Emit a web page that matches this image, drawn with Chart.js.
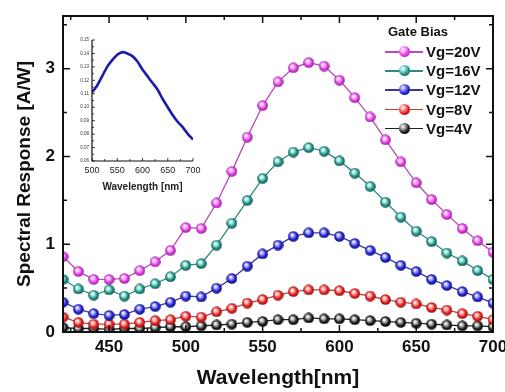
<!DOCTYPE html>
<html>
<head>
<meta charset="utf-8">
<script src="https://cdn.jsdelivr.net/npm/chart.js@4.4.1/dist/chart.umd.min.js"></script>
<style>
  html, body { margin: 0; padding: 0; background: #fff; }
  #wrap { position: relative; width: 505px; height: 392px; overflow: hidden; }
  #main { position: absolute; left: 0; top: 0; }
  #inset { position: absolute; left: 50px; top: 30px; }
  #legend { position: absolute; left: 385px; top: 24px; font-family: "Liberation Sans", Arial, sans-serif; font-weight: bold; color: #111; }
  .lg-title { font-size: 13px; height: 18px; line-height: 16px; margin-left: 3px; }
  .lg-row { display: flex; align-items: center; height: 19.2px; font-size: 15px; }
  .lg-mark { position: relative; width: 38px; height: 11px; margin-right: 3px; }
  .lg-mark .ln { position: absolute; left: 0; right: 0; top: 5px; height: 1.5px; }
  .lg-mark .bl { position: absolute; left: 13.5px; top: 0; width: 11px; height: 11px; border-radius: 50%; }
</style>
</head>
<body>
<div id="wrap">
  <canvas id="main" width="505" height="392"></canvas>
  <canvas id="inset" width="160" height="165"></canvas>
  <div id="legend"></div>
</div>
<script>
// main plot data (10 nm steps)
const wavelengths = [420, 430, 440, 450, 460, 470, 480, 490, 500, 510, 520, 530, 540, 550, 560,
  570, 580, 590, 600, 610, 620, 630, 640, 650, 660, 670, 680, 690, 700];
const vg20 = [0.86, 0.69, 0.60, 0.60, 0.61, 0.70, 0.80, 0.93, 1.19, 1.18, 1.47, 1.83, 2.22, 2.58, 2.85,
  3.01, 3.07, 3.03, 2.87, 2.67, 2.45, 2.19, 1.94, 1.70, 1.51, 1.34, 1.18, 1.04, 0.91];
const vg16 = [0.60, 0.49, 0.42, 0.48, 0.41, 0.49, 0.55, 0.63, 0.76, 0.78, 0.99, 1.24, 1.50, 1.75, 1.94,
  2.05, 2.10, 2.06, 1.95, 1.81, 1.66, 1.48, 1.31, 1.15, 1.03, 0.90, 0.81, 0.70, 0.60];
const vg12 = [0.34, 0.26, 0.21, 0.19, 0.20, 0.26, 0.29, 0.34, 0.41, 0.40, 0.50, 0.61, 0.75, 0.89, 0.99,
  1.09, 1.13, 1.13, 1.09, 1.01, 0.93, 0.85, 0.76, 0.69, 0.60, 0.53, 0.46, 0.40, 0.33];
const vg8 = [0.17, 0.11, 0.09, 0.09, 0.09, 0.11, 0.13, 0.14, 0.18, 0.17, 0.23, 0.27, 0.33, 0.37, 0.42,
  0.46, 0.48, 0.48, 0.47, 0.44, 0.41, 0.37, 0.34, 0.32, 0.28, 0.25, 0.21, 0.18, 0.14];
const vg4 = [0.05, 0.04, 0.04, 0.03, 0.04, 0.04, 0.05, 0.06, 0.06, 0.07, 0.08, 0.09, 0.11, 0.12, 0.14,
  0.14, 0.16, 0.15, 0.15, 0.14, 0.13, 0.12, 0.11, 0.10, 0.09, 0.08, 0.07, 0.07, 0.06];
const seriesNames = ["Vg=20V", "Vg=16V", "Vg=12V", "Vg=8V", "Vg=4V"];
const xTicks = [450, 500, 550, 600, 650, 700];
const yTicks = [0, 1, 2, 3];

// inset data
const insetWl = [500, 510, 520, 530, 540, 550, 560, 570, 580, 590, 600,
  610, 620, 630, 640, 650, 660, 670, 680, 690, 700];
const insetResp = [0.111, 0.116, 0.123, 0.130, 0.135, 0.139, 0.141, 0.140, 0.138, 0.134, 0.128,
  0.123, 0.118, 0.113, 0.106, 0.100, 0.094, 0.089, 0.085, 0.080, 0.076];
const insetXTicks = [500, 550, 600, 650, 700];
const insetYTicks = [0.06, 0.07, 0.08, 0.09, 0.10, 0.11, 0.12, 0.13, 0.14, 0.15];

const FONT = '"Liberation Sans", Arial, sans-serif';
const styles = [
  { line: "#b84cb8", ball: "#e03ee4", light: "#ffb8ff", dark: "#8a1a8e" },
  { line: "#2e8a82", ball: "#259389", light: "#a8eee6", dark: "#0c4a44" },
  { line: "#3a3a9a", ball: "#2424d4", light: "#a8a8ff", dark: "#0a0a6a" },
  { line: "#c04040", ball: "#e42222", light: "#ffb0b0", dark: "#8a0808" },
  { line: "#222222", ball: "#222222", light: "#bbbbbb", dark: "#000000" }
];

function ball(s) {
  const c = document.createElement("canvas");
  c.width = c.height = 11;
  const g = c.getContext("2d");
  const grad = g.createRadialGradient(4, 3.8, 0.3, 5.5, 5.5, 5.5);
  grad.addColorStop(0, "#ffffff");
  grad.addColorStop(0.3, s.light);
  grad.addColorStop(0.65, s.ball);
  grad.addColorStop(1, s.dark);
  g.fillStyle = grad;
  g.beginPath();
  g.arc(5.5, 5.5, 5.3, 0, Math.PI * 2);
  g.fill();
  return c;
}

// frame + inward tick marks
const frameTicks = {
  id: "frameTicks",
  afterDraw(chart, args, o) {
    const { ctx, chartArea: a, scales: { x, y } } = chart;
    ctx.save();
    ctx.strokeStyle = "#111";
    ctx.lineWidth = o.tickWidth;
    ctx.beginPath();
    const tx = (v, len) => {
      const px = x.getPixelForValue(v);
      ctx.moveTo(px, a.bottom); ctx.lineTo(px, a.bottom - len);
      if (o.box) { ctx.moveTo(px, a.top); ctx.lineTo(px, a.top + len); }
    };
    const ty = (v, len) => {
      const py = y.getPixelForValue(v);
      ctx.moveTo(a.left, py); ctx.lineTo(a.left + len, py);
      if (o.box) { ctx.moveTo(a.right, py); ctx.lineTo(a.right - len, py); }
    };
    o.xMajor.forEach(v => tx(v, o.major));
    o.xMinor.forEach(v => tx(v, o.minor));
    o.yMajor.forEach(v => ty(v, o.major));
    o.yMinor.forEach(v => ty(v, o.minor));
    ctx.stroke();
    ctx.lineWidth = o.lineWidth;
    ctx.beginPath();
    if (o.box) {
      ctx.rect(a.left, a.top, a.right - a.left, a.bottom - a.top);
    } else {
      ctx.moveTo(a.left, a.top); ctx.lineTo(a.left, a.bottom); ctx.lineTo(a.right, a.bottom);
    }
    ctx.stroke();
    ctx.restore();
  }
};

const datasets = [vg20, vg16, vg12, vg8, vg4].map((vals, i) => ({
  label: seriesNames[i],
  data: wavelengths.map((w, j) => ({ x: w, y: vals[j] })),
  borderColor: styles[i].line,
  borderWidth: 1.3,
  pointStyle: ball(styles[i]),
  pointRadius: 5,
  tension: 0
}));

new Chart(document.getElementById("main"), {
  type: "line",
  data: { datasets },
  plugins: [frameTicks],
  options: {
    responsive: false,
    animation: false,
    devicePixelRatio: 1,
    layout: { padding: { top: 16, right: 12, left: 0, bottom: 0 } },
    plugins: {
      legend: { display: false },
      tooltip: { enabled: false },
      frameTicks: {
        box: true, lineWidth: 2, tickWidth: 1.5, major: 7, minor: 4,
        xMajor: xTicks, xMinor: xTicks.map(v => v - 25).filter(v => v > 420),
        yMajor: yTicks, yMinor: yTicks.map(v => v + 0.5).filter(v => v < 3.6)
      }
    },
    scales: {
      x: {
        type: "linear", min: 420, max: 700,
        afterBuildTicks: s => { s.ticks = xTicks.map(v => ({ value: v })); },
        afterFit: s => { s.height = 60; s.paddingLeft = 0; s.paddingRight = 0; },
        grid: { display: false, drawTicks: false },
        border: { display: false },
        ticks: { color: "#111", padding: 5, maxRotation: 0, autoSkip: false,
          font: { family: FONT, size: 17, weight: "bold" } },
        title: { display: true, text: "Wavelength[nm]", color: "#111",
          font: { family: FONT, size: 21, weight: "bold", lineHeight: 1.2 },
          padding: { top: 0, bottom: 1 } }
      },
      y: {
        min: 0, max: 3.6,
        afterBuildTicks: s => { s.ticks = yTicks.map(v => ({ value: v })); },
        afterFit: s => { s.width = 63; s.paddingTop = 0; s.paddingBottom = 0; },
        grid: { display: false, drawTicks: false },
        border: { display: false },
        ticks: { color: "#111", padding: 8,
          font: { family: FONT, size: 17, weight: "bold" } },
        title: { display: true, text: "Spectral Response [A/W]", color: "#111",
          font: { family: FONT, size: 19, weight: "bold", lineHeight: 1.2 },
          padding: { top: 13, bottom: 0 } }
      }
    }
  }
});

// inset
new Chart(document.getElementById("inset"), {
  type: "line",
  data: {
    datasets: [{
      data: insetWl.map((w, j) => ({ x: w, y: insetResp[j] })),
      borderColor: "#1c1ca8",
      borderWidth: 2.6,
      pointRadius: 0,
      tension: 0.2
    }]
  },
  plugins: [frameTicks],
  options: {
    responsive: false,
    animation: false,
    devicePixelRatio: 1,
    layout: { padding: { top: 10, right: 17, left: 0, bottom: 0 } },
    plugins: {
      legend: { display: false },
      tooltip: { enabled: false },
      frameTicks: {
        box: false, lineWidth: 1.2, tickWidth: 0.8, major: 3, minor: 2,
        xMajor: insetXTicks, xMinor: insetXTicks.map(v => v - 25).filter(v => v > 500),
        yMajor: insetYTicks, yMinor: insetYTicks.map(v => v + 0.005).filter(v => v < 0.15)
      }
    },
    scales: {
      x: {
        type: "linear", min: 500, max: 700,
        afterBuildTicks: s => { s.ticks = insetXTicks.map(v => ({ value: v })); },
        afterFit: s => { s.height = 34; s.paddingLeft = 0; s.paddingRight = 0; },
        grid: { display: false, drawTicks: false },
        border: { display: false },
        ticks: { color: "#222", padding: 4, maxRotation: 0, autoSkip: false,
          font: { family: FONT, size: 9 } },
        title: { display: true, text: "Wavelength [nm]", color: "#222",
          font: { family: FONT, size: 10, weight: "bold", lineHeight: 1.2 },
          padding: { top: 0, bottom: 2 } }
      },
      y: {
        min: 0.06, max: 0.15,
        afterBuildTicks: s => { s.ticks = insetYTicks.map(v => ({ value: v })); },
        afterFit: s => { s.width = 42; s.paddingTop = 0; s.paddingBottom = 0; },
        grid: { display: false, drawTicks: false },
        border: { display: false },
        ticks: { color: "#333", padding: 3, callback: v => v.toFixed(2),
          font: { family: FONT, size: 4.5 } }
      }
    }
  }
});

// legend (HTML overlay)
const legend = document.getElementById("legend");
legend.innerHTML = '<div class="lg-title">Gate Bias</div>' + seriesNames.map((name, i) => {
  const s = styles[i];
  return `<div class="lg-row"><span class="lg-mark"><span class="ln" style="background:${s.line}"></span>` +
    `<span class="bl" style="background:radial-gradient(circle at 36% 34%, #fff 0%, ${s.light} 18%, ${s.ball} 55%, ${s.dark} 100%)"></span></span>` +
    `<span>${name}</span></div>`;
}).join("");
</script>
</body>
</html>
